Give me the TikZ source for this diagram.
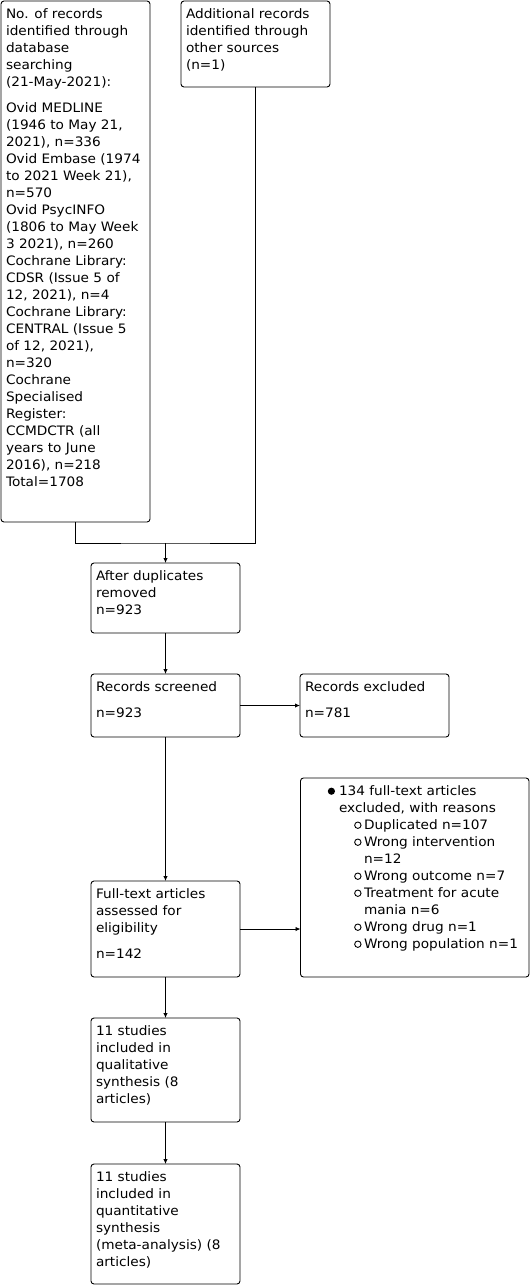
\documentclass[tikz,border=0pt]{standalone}
\usepackage{fontspec}
\setmainfont{DejaVu Sans}[FakeStretch=1.05]
\usetikzlibrary{arrows.meta}
\newcommand\boxtext[3]{\parbox[c][#2][t]{\dimexpr#1-10pt\relax}{\fontsize{13pt}{17pt}\selectfont\raggedright\rule{0pt}{17pt}#3}}
\newcommand\myblt{\tikz[baseline=0pt]\fill (0,3.8pt) circle (3.6pt);}
\newcommand\mycrc{\tikz[baseline=0pt]\draw[line width=0.9pt] (0,3.8pt) circle (3.2pt);}
\tikzset{
  box/.style={draw, rounded corners=3pt, line width=0.9pt, inner xsep=5pt, inner ysep=0pt, outer sep=0pt, anchor=north west, align=left},
  arr/.style={line width=0.9pt, -{Latex[length=5pt,width=4.5pt]}},
  ln/.style={line width=0.9pt}
}
\begin{document}
\begin{tikzpicture}[x=1pt,y=-1pt]
\useasboundingbox (0,0) rectangle (531,1285);
\node[box] (A) at (1,1) {\boxtext{149pt}{521pt}{No. of records\\identified through\\database\\searching\\(21-May-2021):\\[9pt]Ovid MEDLINE\\(1946 to May 21,\\2021), n=336\\Ovid Embase (1974\\to 2021 Week 21),\\n=570\\Ovid PsycINFO\\(1806 to May Week\\3 2021), n=260\\Cochrane Library:\\CDSR (Issue 5 of\\12, 2021), n=4\\Cochrane Library:\\CENTRAL (Issue 5\\of 12, 2021),\\n=320\\Cochrane\\Specialised\\Register:\\CCMDCTR (all\\years to June\\2016), n=218\\Total=1708}};
\node[box] (B) at (181,1) {\boxtext{149pt}{86pt}{Additional records\\identified through\\other sources\\(n=1)}};
\node[box] (C) at (91,563) {\boxtext{149pt}{70pt}{After duplicates\\removed\\n=923}};
\node[box] (D) at (91,674) {\boxtext{149pt}{63pt}{Records screened\\[9pt]n=923}};
\node[box] (E) at (300,674) {\boxtext{149pt}{63pt}{Records excluded\\[9pt]n=781}};
\node[box] (F) at (91,881) {\boxtext{149pt}{96pt}{Full-text articles\\assessed for\\eligibility\\[9pt]n=142}};
\node[box] (G) at (300.5,778) {\boxtext{228.5pt}{199pt}{%
\hspace*{33.5pt}\llap{\myblt\hspace{4pt}}134 full-text articles\\
\hspace*{33.5pt}excluded, with reasons\\
\hspace*{58.5pt}\llap{\mycrc\hspace{2.5pt}}Duplicated n=107\\
\hspace*{58.5pt}\llap{\mycrc\hspace{2.5pt}}Wrong intervention\\
\hspace*{58.5pt}n=12\\
\hspace*{58.5pt}\llap{\mycrc\hspace{2.5pt}}Wrong outcome n=7\\
\hspace*{58.5pt}\llap{\mycrc\hspace{2.5pt}}Treatment for acute\\
\hspace*{58.5pt}mania n=6\\
\hspace*{58.5pt}\llap{\mycrc\hspace{2.5pt}}Wrong drug n=1\\
\hspace*{58.5pt}\llap{\mycrc\hspace{2.5pt}}Wrong population n=1}};
\node[box] (H) at (91,1018) {\boxtext{149pt}{104pt}{11 studies\\included in\\qualitative\\synthesis (8\\articles)}};
\node[box] (I) at (91,1164) {\boxtext{149pt}{120pt}{11 studies\\included in\\quantitative\\synthesis\\(meta-analysis) (8\\articles)}};
\coordinate (j) at (C.north |- 0,543);
\draw[ln] (A.south) |- (j) -| (B.south);
\draw[arr] (j) -- (C.north);
\draw[arr] (C.south) -- (D.north);
\draw[arr] (D.east) -- (E.west);
\draw[arr] (D.south) -- (F.north);
\draw[arr] (F.east) -- (F.east -| G.west);
\draw[arr] (F.south) -- (H.north);
\draw[arr] (H.south) -- (I.north);
\end{tikzpicture}
\end{document}
